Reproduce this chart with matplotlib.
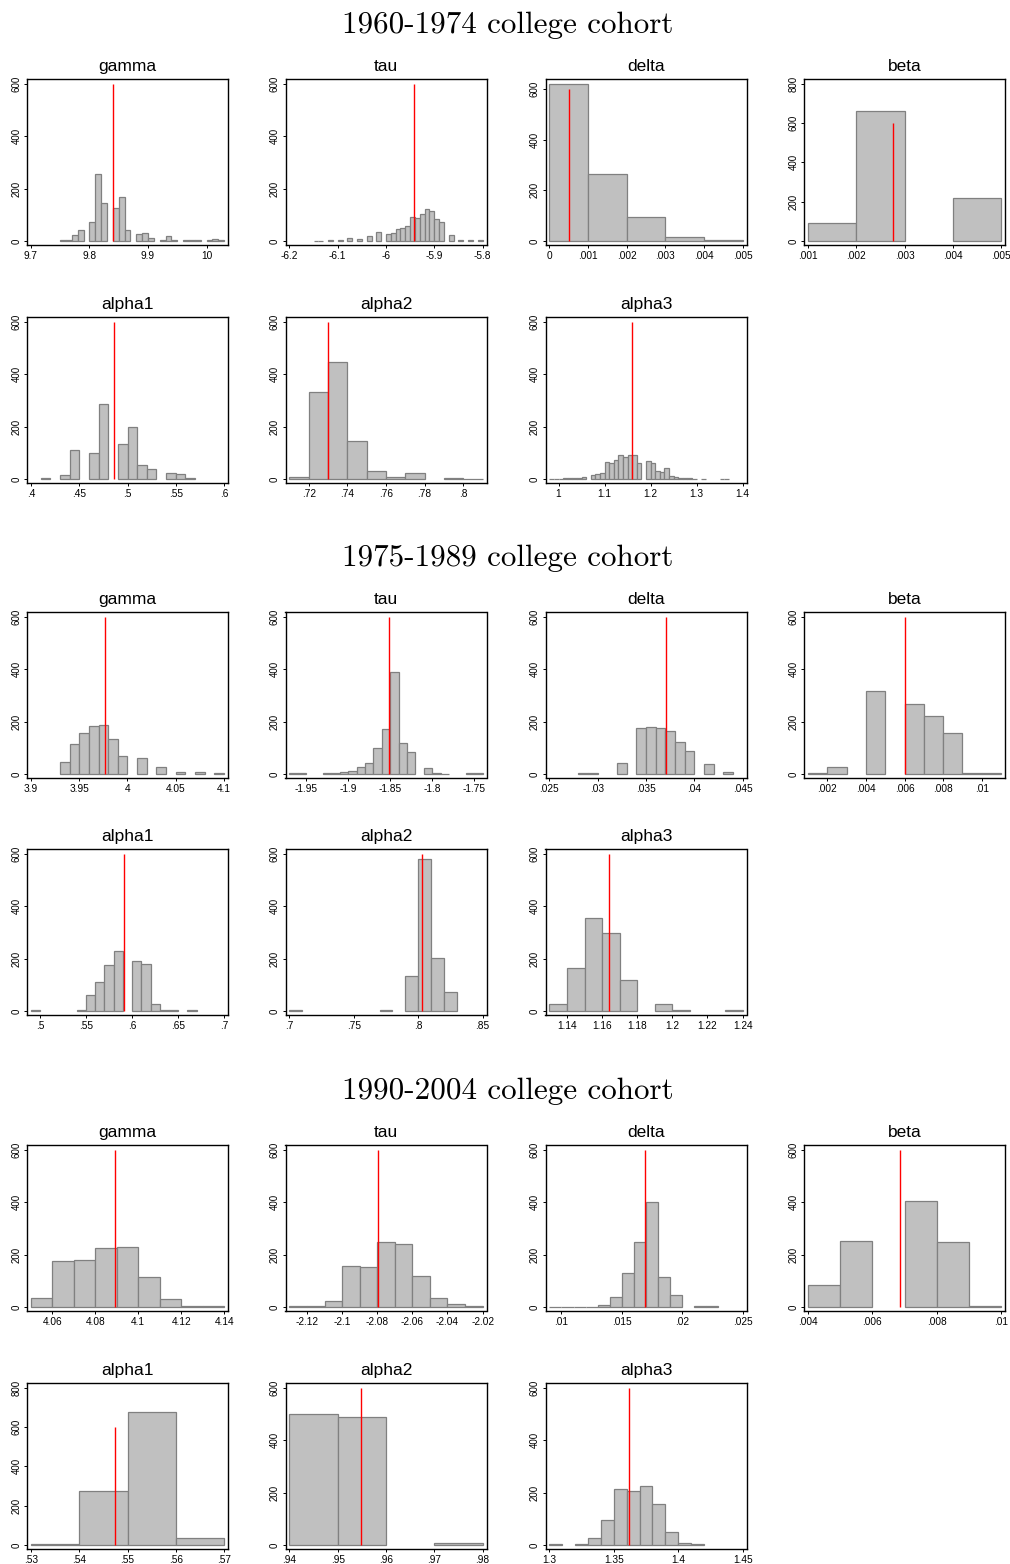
import matplotlib.pyplot as plt
import numpy as np

PARAMS = ["gamma", "tau", "delta", "beta", "alpha1", "alpha2", "alpha3"]
COHORTS = ["1960-1974", "1975-1989", "1990-2004"]

# 1960-1974 cohort: per parameter, first bin edge, bin width, bin counts,
# point estimate, x ticks and top y tick
c60_start = [9.75, -6.15, 0.0, 0.001, 0.41, 0.71, 0.98]
c60_width = [0.01, 0.01, 0.001, 0.001, 0.01, 0.01, 0.01]
c60_counts = [
    [3, 3, 23, 42, 0, 72, 256, 145, 0, 126, 168, 41, 0, 27, 29, 12, 0, 5, 18, 3,
     0, 3, 5, 5, 0, 4, 6, 3],
    [2, 2, 0, 3, 0, 4, 0, 13, 0, 9, 0, 18, 0, 35, 0, 27, 32, 45, 49, 56, 92, 87,
     105, 122, 114, 83, 72, 0, 22, 0, 3, 0, 3, 0, 3],
    [620, 265, 96, 17, 3],
    [93, 663, 0, 220],
    [4, 0, 15, 109, 0, 99, 287, 0, 135, 199, 53, 37, 0, 22, 21, 5],
    [6, 331, 446, 145, 29, 7, 22, 0, 3, 2],
    [2, 2, 2, 3, 3, 3, 4, 6, 0, 15, 19, 22, 64, 63, 72, 90, 83, 92, 92, 60, 0, 70,
     60, 32, 27, 42, 13, 6, 3, 3, 3, 2, 0, 2, 0, 0, 0, 2, 2],
]
c60_estimate = [9.8395, -5.942, 0.00052, 0.00277, 0.486, 0.73, 1.16]
c60_xticks = [
    [9.7, 9.8, 9.9, 10],
    [-6.2, -6.1, -6, -5.9, -5.8],
    [0, 0.001, 0.002, 0.003, 0.004, 0.005],
    [0.001, 0.002, 0.003, 0.004, 0.005],
    [0.4, 0.45, 0.5, 0.55, 0.6],
    [0.72, 0.74, 0.76, 0.78, 0.8],
    [1, 1.1, 1.2, 1.3, 1.4],
]
c60_ytop = [600, 600, 600, 800, 600, 600, 600]

# 1975-1989 cohort
c75_start = [3.93, -1.97, 0.028, 0.001, 0.49, 0.70, 1.13]
c75_width = [0.01, 0.01, 0.001, 0.001, 0.01, 0.01, 0.01]
c75_counts = [
    [47, 114, 157, 185, 188, 134, 70, 0, 63, 0, 26, 0, 6, 0, 6, 0, 3],
    [3, 3, 0, 0, 5, 3, 8, 13, 27, 42, 100, 172, 388, 117, 84, 0, 24, 3, 2, 0, 0,
     3, 3],
    [3, 3, 0, 0, 42, 0, 177, 180, 175, 165, 121, 87, 0, 38, 0, 6],
    [3, 27, 0, 318, 0, 266, 221, 158, 4, 3],
    [3, 0, 0, 0, 0, 3, 60, 109, 176, 230, 0, 191, 180, 26, 4, 4, 0, 3],
    [3, 0, 0, 0, 0, 0, 0, 3, 0, 135, 580, 204, 73],
    [26, 163, 355, 298, 120, 0, 28, 4, 0, 0, 3],
]
c75_estimate = [3.977, -1.851, 0.03706, 0.00605, 0.5916, 0.8026, 1.1642]
c75_xticks = [
    [3.9, 3.95, 4, 4.05, 4.1],
    [-1.95, -1.9, -1.85, -1.8, -1.75],
    [0.025, 0.03, 0.035, 0.04, 0.045],
    [0.002, 0.004, 0.006, 0.008, 0.01],
    [0.5, 0.55, 0.6, 0.65, 0.7],
    [0.7, 0.75, 0.8, 0.85],
    [1.14, 1.16, 1.18, 1.2, 1.22, 1.24],
]
c75_ytop = [600, 600, 600, 600, 600, 600, 600]

# 1990-2004 cohort
c90_start = [4.05, -2.13, 0.009, 0.004, 0.53, 0.94, 1.30]
c90_width = [0.01, 0.01, 0.001, 0.001, 0.01, 0.01, 0.01]
c90_counts = [
    [36, 175, 179, 225, 230, 115, 29, 3, 3],
    [3, 4, 25, 158, 151, 250, 239, 117, 34, 13, 3],
    [2, 2, 2, 2, 8, 38, 128, 248, 401, 116, 46, 0, 5, 3],
    [86, 253, 0, 404, 250, 4],
    [3, 277, 679, 34],
    [499, 490, 0, 8],
    [3, 0, 4, 26, 97, 212, 208, 224, 158, 51, 8, 3],
]
c90_estimate = [4.0891, -2.0795, 0.01694, 0.00686, 0.5475, 0.9548, 1.3618]
c90_xticks = [
    [4.06, 4.08, 4.1, 4.12, 4.14],
    [-2.12, -2.1, -2.08, -2.06, -2.04, -2.02],
    [0.01, 0.015, 0.02, 0.025],
    [0.004, 0.006, 0.008, 0.01],
    [0.53, 0.54, 0.55, 0.56, 0.57],
    [0.94, 0.95, 0.96, 0.97, 0.98],
    [1.3, 1.35, 1.4, 1.45],
]
c90_ytop = [600, 600, 600, 600, 800, 600, 600]

cohort_data = [
    (c60_start, c60_width, c60_counts, c60_estimate, c60_xticks, c60_ytop),
    (c75_start, c75_width, c75_counts, c75_estimate, c75_xticks, c75_ytop),
    (c90_start, c90_width, c90_counts, c90_estimate, c90_xticks, c90_ytop),
]

SANS = ["Liberation Sans", "DejaVu Sans"]
W, H = 1010, 1564
col_left = [27, 285.5, 545.5, 804]
row_top = [79, 317, 612, 849, 1145, 1383]
title_y = [25, 558, 1091]
ax_w, ax_h = 201, 166


def stata_label(v):
    s = f"{v:g}"
    if s.startswith("0."):
        s = s[1:]
    elif s.startswith("-0."):
        s = "-" + s[2:]
    return s


def draw_panel(ax, name, start, width, counts, est, xticks, ytop):
    counts = np.asarray(counts, dtype=float)
    edges = start + width * np.arange(len(counts) + 1)
    keep = counts > 0
    ax.bar(edges[:-1][keep], counts[keep], width=width, align="edge",
           color="#c0c0c0", edgecolor="#808080", linewidth=0.9)
    ax.vlines(est, 0, 600, color="red", linewidth=1.0, zorder=3)

    lo = min(xticks[0], edges[0])
    hi = max(xticks[-1], edges[-1])
    pad = 0.02 * (hi - lo)
    ax.set_xlim(lo - pad, hi + pad)
    top = max(ytop, counts.max())
    ax.set_ylim(-0.025 * ytop, top * 1.03)

    ax.set_xticks(xticks)
    ax.set_xticklabels([stata_label(t) for t in xticks], family=SANS, fontsize=7.3)
    yt = list(range(0, ytop + 1, 200))
    ax.set_yticks(yt)
    ax.set_yticklabels([str(t) for t in yt], family=SANS, fontsize=7,
                       rotation=90, va="center")
    ax.tick_params(direction="out", length=2.5, width=0.7, pad=1.5, colors="black")
    for sp in ax.spines.values():
        sp.set_color("black")
        sp.set_linewidth(1.0)
    ax.set_title(name, family=SANS, fontsize=12.5, pad=6)


fig = plt.figure(figsize=(W / 100, H / 100), dpi=100)
fig.patch.set_facecolor("white")

for ci, (starts, widths, counts, ests, xticks, ytops) in enumerate(cohort_data):
    fig.text(508 / W, 1 - title_y[ci] / H, f"{COHORTS[ci]} college cohort",
             family="cmr10", fontsize=22.4, ha="center", va="center")
    for pi, name in enumerate(PARAMS):
        row = ci * 2 + (0 if pi < 4 else 1)
        col = pi if pi < 4 else pi - 4
        top = row_top[row]
        ax = fig.add_axes([col_left[col] / W, 1 - (top + ax_h) / H, ax_w / W, ax_h / H])
        draw_panel(ax, name, starts[pi], widths[pi], counts[pi], ests[pi],
                   xticks[pi], ytops[pi])

fig.savefig("out.png", dpi=100)
